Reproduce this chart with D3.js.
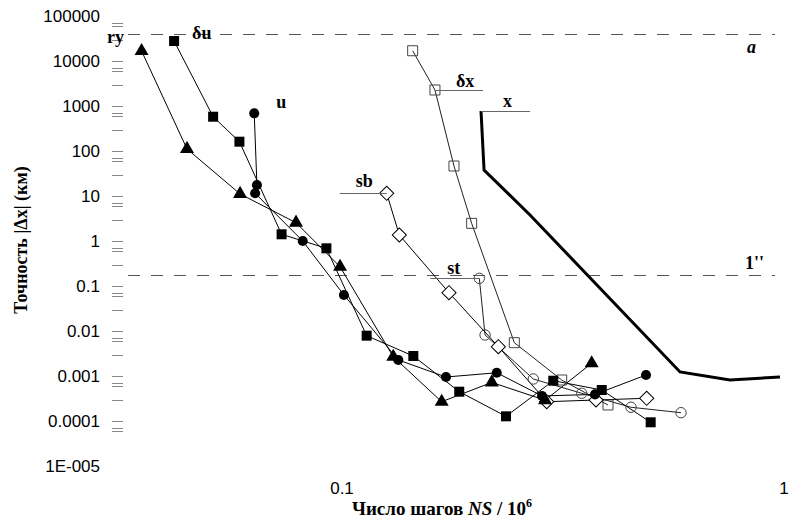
<!DOCTYPE html>
<html>
<head>
<meta charset="utf-8">
<script src="https://cdn.jsdelivr.net/npm/d3@7/dist/d3.min.js"></script>
<style>
body { margin: 0; background: #fff; }
svg { display: block; }
.tick-lbl { font-family: "Liberation Sans", Arial, sans-serif; font-size: 17px; fill: #000; }
.lbl { font-family: "Liberation Serif", "Times New Roman", serif; font-weight: bold; font-size: 18px; fill: #000; }
</style>
</head>
<body>
<div id="chart"></div>
<script>
var width = 790;
var height = 525;

// axis ticks
var yTicks = [1e5, 1e4, 1e3, 100, 10, 1, 0.1, 0.01, 0.001, 0.0001, 1e-5];
var yTickLabels = ['100000', '10000', '1000', '100', '10', '1', '0.1', '0.01', '0.001', '0.0001', '1E-005'];
var xTicks = [0.1, 1];
var xTickLabels = ['0.1', '1'];
var minorMant = [1, 3, 6, 7];

// reference levels
var levelA = 40000;
var level1s = 0.175;

// series: NS/10^6 and |dx| (km)
var ryX = [0.0352, 0.0446, 0.0588, 0.0787, 0.099, 0.1306, 0.1681, 0.2182, 0.2880, 0.3672];
var ryY = [16700, 111, 11.1, 2.55, 0.268, 0.00268, 0.000268, 0.00072, 0.00029, 0.00192];

var duX = [0.0417, 0.0511, 0.0586, 0.073, 0.0922, 0.1137, 0.145, 0.1842, 0.235, 0.3006, 0.3869, 0.4993];
var duY = [27800, 578, 161, 1.41, 0.688, 0.00787, 0.00278, 0.000448, 0.000127, 0.000786, 0.000489, 0.0000936];

var uX = [0.0633, 0.0642, 0.0636, 0.0815, 0.101, 0.1341, 0.1719, 0.2239, 0.2835, 0.3736, 0.4873];
var uY = [688, 17.6, 11.5, 1.0, 0.0631, 0.00227, 0.00095, 0.00118, 0.00036, 0.00039, 0.00105];

var dxX = [0.1445, 0.1623, 0.1792, 0.1965, 0.2454, 0.3141, 0.3998];
var dxY = [16900, 2268, 46.4, 2.47, 0.0055, 0.000815, 0.000227];

var sbX = [0.1262, 0.1348, 0.1746, 0.2258, 0.2905, 0.3756, 0.489];
var sbY = [11.5, 1.36, 0.071, 0.00448, 0.000268, 0.000293, 0.00032];

var stX = [0.2045, 0.2107, 0.2709, 0.3486, 0.4507, 0.5848];
var stY = [0.148, 0.00815, 0.000858, 0.000413, 0.000202, 0.000153];

var xX = [0.2063, 0.2096, 0.2663, 0.5818, 0.7547, 0.9794];
var xY = [774, 37.8, 3.78, 0.00123, 0.000815, 0.00095];

function zip(xs, ys) {
    return xs.map(function(v, i) { return [v, ys[i]]; });
}

var svg = d3.select('#chart').append('svg')
    .attr('width', width).attr('height', height);

var x = d3.scaleLog().domain([0.1, 1]).range([342, 784]);
var y = d3.scaleLog().domain([1e-5, 1e5]).range([466, 16]);

var plotLeft = 128, plotRight = 775;

// y minor ticks (grey)
var minorTicks = [];
for (var k = -5; k <= 4; k++) {
    minorMant.forEach(function(m) {
        var v = m * Math.pow(10, k);
        if (v >= 5e-5 && v <= 1e5) minorTicks.push(v);
    });
}
svg.append('g').selectAll('line')
    .data(minorTicks)
    .join('line')
    .attr('x1', 112).attr('x2', 123)
    .attr('y1', function(d) { return Math.round(y(d)) + 0.5; })
    .attr('y2', function(d) { return Math.round(y(d)) + 0.5; })
    .attr('stroke', '#888').attr('stroke-width', 1);

// y tick labels
svg.append('g').selectAll('text')
    .data(yTicks)
    .join('text')
    .attr('class', 'tick-lbl')
    .attr('x', 100)
    .attr('y', function(d) { return y(d); })
    .attr('dy', '0.36em')
    .attr('text-anchor', 'end')
    .text(function(d, i) { return yTickLabels[i]; });

// x tick labels
svg.append('g').selectAll('text')
    .data(xTicks)
    .join('text')
    .attr('class', 'tick-lbl')
    .attr('x', function(d) { return x(d); })
    .attr('y', 494)
    .attr('text-anchor', 'middle')
    .text(function(d, i) { return xTickLabels[i]; });

// dashed reference lines
[levelA, level1s].forEach(function(v) {
    svg.append('line')
        .attr('x1', plotLeft).attr('x2', plotRight)
        .attr('y1', Math.round(y(v)) + 0.5).attr('y2', Math.round(y(v)) + 0.5)
        .attr('stroke', '#555').attr('stroke-width', 1)
        .attr('stroke-dasharray', '12,11');
});

var line = d3.line()
    .x(function(d) { return x(d[0]); })
    .y(function(d) { return y(d[1]); });

var series = [
    { pts: zip(xX, xY), stroke: '#000', width: 3, marker: null },
    { pts: zip(dxX, dxY), stroke: '#222', width: 1, marker: 'osquare' },
    { pts: zip(stX, stY), stroke: '#222', width: 1, marker: 'ocircle' },
    { pts: zip(sbX, sbY), stroke: '#000', width: 1, marker: 'diamond' },
    { pts: zip(ryX, ryY), stroke: '#000', width: 1, marker: 'triangle' },
    { pts: zip(duX, duY), stroke: '#000', width: 1, marker: 'square' },
    { pts: zip(uX, uY), stroke: '#000', width: 1, marker: 'circle' }
];

series.forEach(function(s) {
    svg.append('path')
        .attr('d', line(s.pts))
        .attr('fill', 'none')
        .attr('stroke', s.stroke)
        .attr('stroke-width', s.width)
        .attr('stroke-linejoin', 'miter');
});

var markerDefs = {
    square: { type: d3.symbolSquare, size: 100, fill: '#000', stroke: 'none', rot: 0 },
    triangle: { type: d3.symbolTriangle, size: 85, fill: '#000', stroke: 'none', rot: 0 },
    circle: { type: d3.symbolCircle, size: 80, fill: '#000', stroke: 'none', rot: 0 },
    osquare: { type: d3.symbolSquare, size: 100, fill: 'none', stroke: '#444', rot: 0 },
    ocircle: { type: d3.symbolCircle, size: 85, fill: 'none', stroke: '#444', rot: 0 },
    diamond: { type: d3.symbolSquare, size: 100, fill: '#fff', stroke: '#000', rot: 45 }
};

series.forEach(function(s) {
    if (!s.marker) return;
    var m = markerDefs[s.marker];
    svg.append('g').selectAll('path')
        .data(s.pts)
        .join('path')
        .attr('d', d3.symbol().type(m.type).size(m.size))
        .attr('transform', function(d) {
            return 'translate(' + x(d[0]) + ',' + y(d[1]) + ') rotate(' + m.rot + ')';
        })
        .attr('fill', m.fill)
        .attr('stroke', m.stroke)
        .attr('stroke-width', 1);
});

// series labels with leaders
function leader(px, py, dx) {
    svg.append('line')
        .attr('x1', px).attr('x2', px + dx)
        .attr('y1', Math.round(py) + 0.5).attr('y2', Math.round(py) + 0.5)
        .attr('stroke', '#666').attr('stroke-width', 1);
}
leader(x(dxX[1]), y(dxY[1]), 48);
leader(x(xX[0]), y(xY[0]), 49);
leader(x(sbX[0]), y(sbY[0]), -47);
leader(x(stX[0]), y(stY[0]), -49);

function label(txt, px, py, italic) {
    svg.append('text')
        .attr('class', 'lbl')
        .attr('x', px).attr('y', py)
        .style('font-style', italic ? 'italic' : 'normal')
        .text(txt);
}
label('ry', 107, 43);
label('δu', x(duX[0]) + 18, y(duY[0]) - 2);
label('u', x(uX[0]) + 22, y(uY[0]) - 5);
label('δx', x(dxX[1]) + 21, y(dxY[1]) - 3);
label('x', x(xX[0]) + 22, y(xY[0]) - 4);
label('sb', x(sbX[0]) - 31, y(sbY[0]) - 6);
label('st', x(stX[0]) - 32, y(stY[0]) - 4);
label('a', 747, 53, true);
label('1\'\'', 745, 269);

// axis titles
svg.append('text')
    .attr('class', 'lbl')
    .attr('transform', 'translate(27,240) rotate(-90)')
    .attr('text-anchor', 'middle')
    .text('Точность |Δx| (км)');

var xt = svg.append('text')
    .attr('class', 'lbl')
    .style('font-size', '19px')
    .attr('x', 442).attr('y', 515)
    .attr('text-anchor', 'middle');
xt.append('tspan').text('Число шагов ');
xt.append('tspan').style('font-style', 'italic').text('NS');
xt.append('tspan').text(' / 10');
xt.append('tspan').attr('dy', -8).style('font-size', '12px').text('6');
</script>
</body>
</html>
